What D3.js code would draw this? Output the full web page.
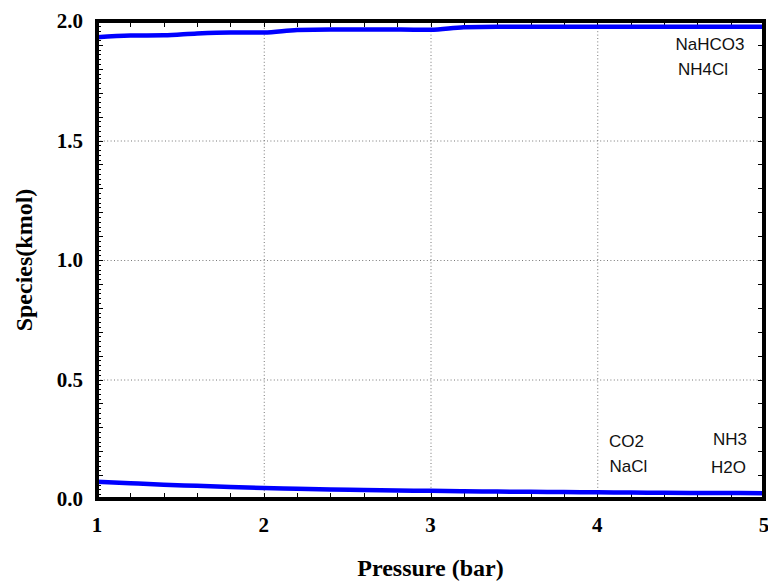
<!DOCTYPE html>
<html>
<head>
<meta charset="utf-8">
<script src="https://cdn.jsdelivr.net/npm/d3@7"></script>
<style>
  body { margin: 0; background: #fff; }
  svg { display: block; }
</style>
</head>
<body>
<svg id="chart" width="768" height="581"></svg>
<script>
// pressure (bar) sampled every 0.2
var pressure = [1.0, 1.2, 1.4, 1.6, 1.8, 2.0, 2.2, 2.4, 2.6, 2.8, 3.0,
                3.2, 3.4, 3.6, 3.8, 4.0, 4.2, 4.4, 4.6, 4.8, 5.0];
// NaHCO3 / NH4Cl (kmol)
var solidSpecies = [1.932, 1.939, 1.940, 1.948, 1.952, 1.952, 1.962, 1.964, 1.964, 1.964, 1.963,
                    1.974, 1.976, 1.976, 1.976, 1.976, 1.976, 1.976, 1.976, 1.976, 1.976];
// CO2 / NaCl / NH3 / H2O (kmol)
var liquidSpecies = [0.072, 0.066, 0.060, 0.055, 0.050, 0.046, 0.043, 0.040, 0.038, 0.036, 0.034,
                     0.032, 0.031, 0.030, 0.029, 0.028, 0.027, 0.026, 0.025, 0.025, 0.024];

var xTicks = [1, 2, 3, 4, 5];
var yTicks = [0, 0.5, 1.0, 1.5, 2.0];

// species names and where they sit in data units
var labelNames = ["NaHCO3", "NH4Cl", "CO2", "NaCl", "NH3", "H2O"];
var labelX = [4.676, 4.634, 4.175, 4.187, 4.796, 4.787];
var labelY = [1.879, 1.774, 0.218, 0.113, 0.226, 0.109];

var svg = d3.select("#chart");
// plot box (note: "top" is taken by window.top, so use prefixed names)
var pLeft = 97, pRight = 764, pTop = 21, pBottom = 499;

var x = d3.scaleLinear().domain([1, 5]).range([pLeft, pRight]);
var y = d3.scaleLinear().domain([0, 2]).range([pBottom, pTop]);

svg.append("rect").attr("width", 768).attr("height", 581).attr("fill", "#fff");

// dotted grid
var grid = svg.append("g").attr("stroke", "#777").attr("stroke-width", 1)
    .attr("stroke-dasharray", "1,2.4");
grid.selectAll(".vg").data(xTicks.slice(1, -1)).enter().append("line")
    .attr("x1", d => x(d) + 0.5).attr("x2", d => x(d) + 0.5)
    .attr("y1", pTop).attr("y2", pBottom);
grid.selectAll(".hg").data(yTicks.slice(1, -1)).enter().append("line")
    .attr("x1", pLeft).attr("x2", pRight)
    .attr("y1", d => y(d) + 0.5).attr("y2", d => y(d) + 0.5);

// inner ticks
var tk = svg.append("g").attr("stroke", "#000").attr("stroke-width", 1);
var xMinor = d3.range(1, 5.001, 0.2);
tk.selectAll(".tt").data(xMinor).enter().append("line")
    .attr("x1", d => Math.round(x(d)) + 0.5).attr("x2", d => Math.round(x(d)) + 0.5)
    .attr("y1", pTop).attr("y2", pTop + 6);
tk.selectAll(".bt").data(xMinor).enter().append("line")
    .attr("x1", d => Math.round(x(d)) + 0.5).attr("x2", d => Math.round(x(d)) + 0.5)
    .attr("y1", pBottom).attr("y2", pBottom - 6);
var yMid = d3.range(0, 2.001, 0.1);
var yFine = d3.range(0, 2.001, 0.02);
tk.selectAll(".lf").data(yFine).enter().append("line")
    .attr("x1", pLeft).attr("x2", pLeft + 4)
    .attr("y1", d => Math.round(y(d)) + 0.5).attr("y2", d => Math.round(y(d)) + 0.5);
tk.selectAll(".lm").data(yMid).enter().append("line")
    .attr("x1", pLeft).attr("x2", pLeft + 6)
    .attr("y1", d => Math.round(y(d)) + 0.5).attr("y2", d => Math.round(y(d)) + 0.5);
tk.selectAll(".rm").data(yMid).enter().append("line")
    .attr("x1", pRight).attr("x2", pRight - 6)
    .attr("y1", d => Math.round(y(d)) + 0.5).attr("y2", d => Math.round(y(d)) + 0.5);

// curves
var line = d3.line().curve(d3.curveMonotoneX)
    .x(d => x(d[0])).y(d => y(d[1]));
svg.append("path").datum(d3.zip(pressure, solidSpecies))
    .attr("d", line).attr("fill", "none").attr("stroke", "#0000ff").attr("stroke-width", 4.5);
svg.append("path").datum(d3.zip(pressure, liquidSpecies))
    .attr("d", line).attr("fill", "none").attr("stroke", "#0000ff").attr("stroke-width", 4.5);

// heavy frame
svg.append("rect").attr("x", pLeft).attr("y", pTop)
    .attr("width", pRight - pLeft).attr("height", pBottom - pTop)
    .attr("fill", "none").attr("stroke", "#000").attr("stroke-width", 4);

// tick labels
var serif = "'Liberation Serif', 'Times New Roman', serif";
svg.selectAll(".xl").data(xTicks).enter().append("text")
    .attr("x", d => x(d)).attr("y", 532)
    .attr("text-anchor", "middle")
    .attr("font-family", serif).attr("font-weight", "bold").attr("font-size", 21)
    .text(d => d3.format("d")(d));
svg.selectAll(".yl").data(yTicks).enter().append("text")
    .attr("x", 83).attr("y", d => y(d) + 7)
    .attr("text-anchor", "end")
    .attr("font-family", serif).attr("font-weight", "bold").attr("font-size", 21)
    .text(d => d3.format(".1f")(d));

// axis titles
svg.append("text").attr("x", (pLeft + pRight) / 2).attr("y", 576).attr("text-anchor", "middle")
    .attr("font-family", serif).attr("font-weight", "bold").attr("font-size", 24)
    .text("Pressure (bar)");
svg.append("text").attr("transform", "translate(32," + (pTop + pBottom) / 2 + ") rotate(-90)")
    .attr("text-anchor", "middle")
    .attr("font-family", serif).attr("font-weight", "bold").attr("font-size", 24)
    .text("Species(kmol)");

// species labels
svg.selectAll(".sp").data(labelNames).enter().append("text")
    .attr("x", (d, i) => x(labelX[i])).attr("y", (d, i) => y(labelY[i]))
    .attr("text-anchor", "middle")
    .attr("font-family", "'Liberation Sans', Arial, sans-serif").attr("font-size", 17)
    .attr("fill", "#111")
    .text(d => d);
</script>
</body>
</html>
